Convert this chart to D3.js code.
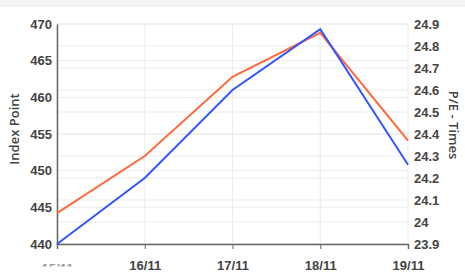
<!DOCTYPE html>
<html><head><meta charset="utf-8">
<script src="https://cdn.jsdelivr.net/npm/d3@7"></script>
<style>body{margin:0;background:#fff;}svg{display:block;font-family:"Open Sans",sans-serif;}</style>
</head><body>
<script>
const dates = ["15/11","16/11","17/11","18/11","19/11"];
const indexPoint = [440.0, 449.0, 461.0, 469.3, 450.8];
const peTimes = [24.04, 24.30, 24.66, 24.86, 24.37];
const leftTicks = [440,445,450,455,460,465,470];
const rightTicks = [23.9,24,24.1,24.2,24.3,24.4,24.5,24.6,24.7,24.8,24.9];

const W=465,H=278, m={l:57,r:57,t:24,b:34};
const svg=d3.select("body").append("svg").attr("width",W).attr("height",H);
svg.append("rect").attr("width",W).attr("height",7).attr("fill","#f4f4f4");
const x=d3.scalePoint().domain(dates).range([m.l,W-m.r]);
const yL=d3.scaleLinear().domain([440,470]).range([H-m.b,m.t]);
const yR=d3.scaleLinear().domain([23.9,24.9]).range([H-m.b,m.t]);
const g=svg.append("g");
g.selectAll(".gl").data(leftTicks).join("line").attr("x1",m.l).attr("x2",W-m.r)
 .attr("y1",d=>yL(d)).attr("y2",d=>yL(d)).attr("stroke","#ebebeb");
g.selectAll(".gr").data(rightTicks).join("line").attr("x1",m.l).attr("x2",W-m.r)
 .attr("y1",d=>yR(d)).attr("y2",d=>yR(d)).attr("stroke","#ebebeb");
g.selectAll(".gv").data(dates).join("line").attr("y1",m.t).attr("y2",H-m.b)
 .attr("x1",d=>x(d)).attr("x2",d=>x(d)).attr("stroke","#ebebeb");
svg.append("clipPath").attr("id","c15").append("rect").attr("x",30).attr("y",-20).attr("width",60).attr("height",24);
const ax=svg.append("g").attr("transform",`translate(0,${H-m.b})`)
 .call(d3.axisBottom(x).tickSize(5).tickPadding(12));
ax.select(".domain").attr("stroke","#666").attr("stroke-width",1.5);
ax.selectAll(".tick line").attr("stroke","#666");
ax.selectAll("text").attr("fill","#444").style("font-size","13px").style("font-weight","600");
ax.selectAll(".tick").filter(d=>d==="15/11").select("text").attr("fill","#999").attr("dy","0.95em");
ax.selectAll(".tick").filter(d=>d==="15/11").append("rect").attr("x",-25).attr("y",22.5).attr("width",50).attr("height",20).attr("fill","#fff");
const al=svg.append("g").attr("transform",`translate(${m.l},0)`)
 .call(d3.axisLeft(yL).tickValues(leftTicks).tickSize(0).tickPadding(5));
al.select(".domain").attr("stroke","#666").attr("stroke-width",1.5);
al.selectAll("text").attr("fill","#444").style("font-size","13px").style("font-weight","600");
const ar=svg.append("g").attr("transform",`translate(${W-m.r},0)`)
 .call(d3.axisRight(yR).tickValues(rightTicks).tickSize(0).tickPadding(6).tickFormat(d3.format("")));
ar.select(".domain").remove();
ar.selectAll("text").attr("fill","#444").style("font-size","13px").style("font-weight","600");
svg.append("text").attr("transform",`translate(19,129) rotate(-90)`).attr("text-anchor","middle")
 .attr("fill","#444").style("font-size","13px").style("font-weight","600").text("Index Point");
svg.append("text").attr("transform",`translate(449,125) rotate(90)`).attr("text-anchor","middle")
 .attr("fill","#444").style("font-size","13px").style("font-weight","600").text("P/E - Times");
svg.append("path").datum(peTimes).attr("fill","none").attr("stroke","#ff6a3d").attr("stroke-width",2)
 .attr("d",d3.line().x((d,i)=>x(dates[i])).y(d=>yR(d)));
svg.append("path").datum(indexPoint).attr("fill","none").attr("stroke","#3355ff").attr("stroke-width",2)
 .attr("d",d3.line().x((d,i)=>x(dates[i])).y(d=>yL(d)));
</script>
</body></html>
